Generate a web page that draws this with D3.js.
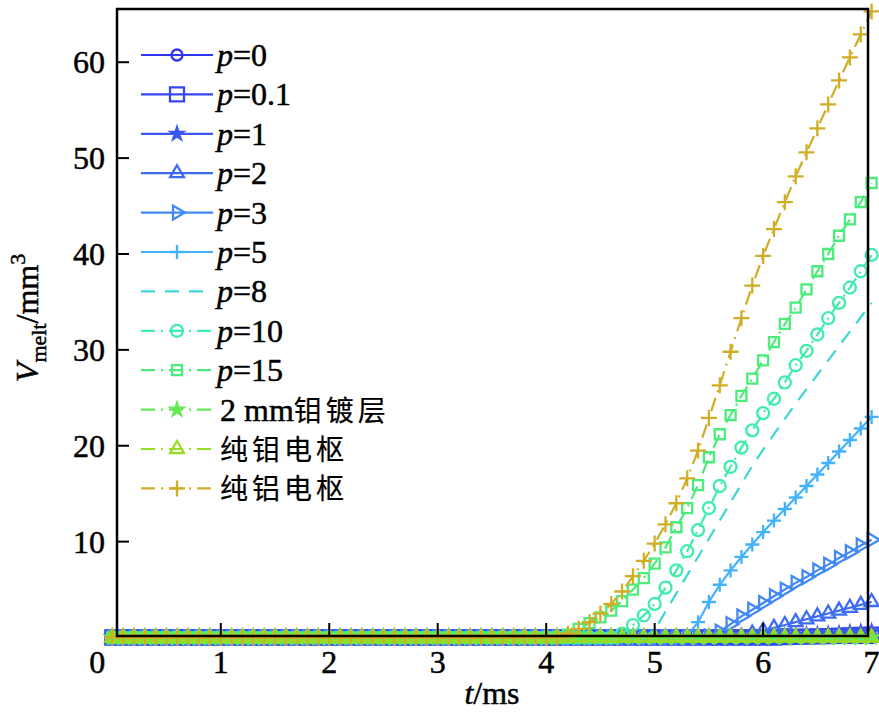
<!DOCTYPE html>
<html>
<head>
<meta charset="utf-8">
<script src="https://cdn.jsdelivr.net/npm/d3@7"></script>
<style>
  body { margin: 0; background: #fff; }
  svg { display: block; }
  text { font-family: "Liberation Serif", "DejaVu Serif", serif; fill: #000; }
  .num { stroke: #000; stroke-width: 0.5px; }
  .cjk { font-family: "Noto Sans CJK SC", sans-serif; }
</style>
</head>
<body>
<svg id="chart" width="879" height="717"></svg>
<script>
// time axis, ms (one sample every 0.1 ms)
const times = [0,0.1,0.2,0.3,0.4,0.5,0.6,0.7,0.8,0.9,1,1.1,1.2,1.3,1.4,1.5,1.6,1.7,1.8,1.9,
  2,2.1,2.2,2.3,2.4,2.5,2.6,2.7,2.8,2.9,3,3.1,3.2,3.3,3.4,3.5,3.6,3.7,3.8,3.9,
  4,4.1,4.2,4.3,4.4,4.5,4.6,4.7,4.8,4.9,5,5.1,5.2,5.3,5.4,5.5,5.6,5.7,5.8,5.9,
  6,6.1,6.2,6.3,6.4,6.5,6.6,6.7,6.8,6.9,7];

// melted volume, mm^3
const p0 = [0,0,0,0,0,0,0,0,0,0, 0,0,0,0,0,0,0,0,0,0, 0,0,0,0,0,0,0,0,0,0, 0,0,0,0,0,0,0,0,0,0,
  0,0,0,0,0,0,0,0,0,0, 0,0,0,0,0,0,0,0,0,0, 0,0,0,0,0,0,0,0,0,0, 0];
const p01 = [0,0,0,0,0,0,0,0,0,0, 0,0,0,0,0,0,0,0,0,0, 0,0,0,0,0,0,0,0,0,0, 0,0,0,0,0,0,0,0,0,0,
  0,0,0,0,0,0,0,0,0,0, 0,0,0,0,0,0,0,0,0,0, 0,0,0.03,0.06,0.09,0.12,0.15,0.18,0.22,0.26, 0.3];
const p1 = [0,0,0,0,0,0,0,0,0,0, 0,0,0,0,0,0,0,0,0,0, 0,0,0,0,0,0,0,0,0,0, 0,0,0,0,0,0,0,0,0,0,
  0,0,0,0,0,0,0,0,0,0, 0,0,0,0,0,0,0,0,0,0, 0.05,0.1,0.15,0.2,0.25,0.3,0.35,0.4,0.5,0.55, 0.6];
const p2 = [0,0,0,0,0,0,0,0,0,0, 0,0,0,0,0,0,0,0,0,0, 0,0,0,0,0,0,0,0,0,0, 0,0,0,0,0,0,0,0,0,0,
  0,0,0,0,0,0,0,0,0,0, 0,0,0,0,0,0,0,0,0.1,0.4, 0.7,1.0,1.3,1.6,1.9,2.2,2.5,2.8,3.1,3.4, 3.7];
const p3 = [0,0,0,0,0,0,0,0,0,0, 0,0,0,0,0,0,0,0,0,0, 0,0,0,0,0,0,0,0,0,0, 0,0,0,0,0,0,0,0,0,0,
  0,0,0,0,0,0,0,0,0,0, 0,0,0,0,0,0.1,0.6,1.4,2.2,2.9, 3.6,4.3,5.0,5.7,6.3,7.0,7.6,8.3,8.9,9.6, 10.2];
const p5 = [0,0,0,0,0,0,0,0,0,0, 0,0,0,0,0,0,0,0,0,0, 0,0,0,0,0,0,0,0,0,0, 0,0,0,0,0,0,0,0,0,0,
  0,0,0,0,0,0,0,0,0,0, 0,0,0,0.2,1.6,3.7,5.5,7.0,8.4,9.7, 11.0,12.2,13.4,14.6,15.8,17.0,18.2,19.4,20.6,21.8, 23.0];
const p8 = [0,0,0,0,0,0,0,0,0,0, 0,0,0,0,0,0,0,0,0,0, 0,0,0,0,0,0,0,0,0,0, 0,0,0,0,0,0,0,0,0,0,
  0,0,0,0,0,0,0,0,0,0, 0.8,2.7,4.6,6.5,8.4,10.3,12.2,14.1,16.0,17.9, 19.6,21.2,22.8,24.4,25.9,27.4,28.9,30.4,31.9,33.4, 34.9];
const p10 = [0,0,0,0,0,0,0,0,0,0, 0,0,0,0,0,0,0,0,0,0, 0,0,0,0,0,0,0,0,0,0, 0,0,0,0,0,0,0,0,0,0,
  0,0,0,0,0,0,0,0.4,1.3,2.3, 3.5,5.2,7.0,9.0,11.2,13.5,15.8,17.8,19.8,21.6, 23.4,24.9,26.6,28.4,29.9,31.6,33.3,34.9,36.5,38.2, 39.9];
const p15 = [0,0,0,0,0,0,0,0,0,0, 0,0,0,0,0,0,0,0,0,0, 0,0,0,0,0,0,0,0,0,0, 0,0,0,0,0,0,0,0,0,0,
  0,0,0.3,0.9,1.5,2.1,2.8,3.8,5.0,6.2, 7.7,9.4,11.5,13.5,15.9,18.8,21.2,23.2,25.2,27.0, 28.9,30.8,32.7,34.4,36.3,38.2,40.0,41.9,43.6,45.4, 47.4];
const coat2mm = [0,0,0,0,0,0,0,0,0,0, 0,0,0,0,0,0,0,0,0,0, 0,0,0,0,0,0,0,0,0,0, 0,0,0,0,0,0,0,0,0,0,
  0,0,0,0,0,0,0,0,0,0, 0,0,0,0,0,0,0,0,0,0, 0,0,0,0,0,0,0,0,0,0, 0];
const pureMo = [0,0,0,0,0,0,0,0,0,0, 0,0,0,0,0,0,0,0,0,0, 0,0,0,0,0,0,0,0,0,0, 0,0,0,0,0,0,0,0,0,0,
  0,0,0,0,0,0,0,0,0,0, 0,0,0,0,0,0,0,0,0,0, 0,0,0,0,0,0,0,0,0,0, 0];
const pureAl = [0,0,0,0,0,0,0,0,0,0, 0,0,0,0,0,0,0,0,0,0, 0,0,0,0,0,0,0,0,0,0, 0,0,0,0,0,0,0,0,0,0,
  0,0,0.4,0.9,1.6,2.5,3.5,4.8,6.4,8.0, 9.8,11.8,14.0,16.6,19.5,22.9,26.3,29.8,33.3,36.7, 39.8,42.6,45.4,48.1,50.6,53.1,55.6,58.1,60.5,62.9, 65.3];

const xTicks = [0,1,2,3,4,5,6,7];
const yTicks = [10,20,30,40,50,60];

const series = [
  { p: "p", label: "=0",   values: p0,  color: "#2f36f2", dash: null,       marker: "circle",   size: 5.5 },
  { p: "p", label: "=0.1", values: p01, color: "#3647f2", dash: null,       marker: "square",   size: 14 },
  { p: "p", label: "=1",   values: p1,  color: "#3a58f0", dash: null,       marker: "star",     size: 48 },
  { p: "p", label: "=2",   values: p2,  color: "#3d6cf2", dash: null,       marker: "triUp",    size: 8 },
  { p: "p", label: "=3",   values: p3,  color: "#4289f6", dash: null,       marker: "triRight", size: 8 },
  { p: "p", label: "=5",   values: p5,  color: "#43b2fb", dash: null,       marker: "plus",     size: 7 },
  { p: "p", label: "=8",   values: p8,  color: "#3fd6d2", dash: "14,10",    marker: null,       size: 0 },
  { p: "p", label: "=10",  values: p10, color: "#3fecab", dash: "14,6,2,6", marker: "circle",   size: 6 },
  { p: "p", label: "=15",  values: p15, color: "#4cec7c", dash: "14,6,2,6", marker: "square",   size: 10 },
  { cjk: "钼镀层", pre: "2 mm", values: coat2mm, color: "#63ea55", dash: "14,6,2,6", marker: "star", size: 48 },
  { cjk: "纯钼电枢", values: pureMo, color: "#96dc22", dash: "14,6,2,6", marker: "triUp", size: 8 },
  { cjk: "纯铝电枢", values: pureAl, color: "#cfae26", dash: "14,6,2,6", marker: "plus",  size: 8 }
];

const svg = d3.select("#chart");
const frame = { left: 117, right: 868, top: 9, bottom: 636 };

const x = d3.scaleLinear().domain([0, 7]).range([112.3, 871.6]);
const y = d3.scaleLinear().domain([0, 65.55]).range([637.5, 9]);

function markerPath(type, s) {
  if (type === "circle") return d3.symbol(d3.symbolCircle, Math.PI * s * s)();
  if (type === "square") { const h = s / 2; return `M${-h},${-h}h${s}v${s}h${-s}Z`; }
  if (type === "star") return d3.symbol(d3.symbolStar, s)();
  if (type === "triUp") return `M0,${-s}L${s * 0.866},${s / 2}L${-s * 0.866},${s / 2}Z`;
  if (type === "triRight") return `M${s},0L${-s / 2},${s * 0.866}L${-s / 2},${-s * 0.866}Z`;
  if (type === "plus") return `M${-s},0H${s}M0,${-s}V${s}`;
  return "";
}

function drawMarker(g, d, cx, cy) {
  if (!d.marker) return;
  g.append("path")
    .attr("d", markerPath(d.marker, d.size))
    .attr("transform", `translate(${cx},${cy})`)
    .attr("fill", d.marker === "star" ? d.color : "none")
    .attr("stroke", d.color)
    .attr("stroke-width", 2.3);
}

const line = d3.line().x((d, i) => x(times[i])).y(d => y(d));

const plot = svg.append("g");
series.forEach(s => {
  const g = plot.append("g");
  g.append("path")
    .datum(s.values)
    .attr("d", line)
    .attr("fill", "none")
    .attr("stroke", s.color)
    .attr("stroke-width", 2.2)
    .attr("stroke-dasharray", s.dash);
  s.values.forEach((v, i) => drawMarker(g, s, x(times[i]), y(v)));
});

// frame and ticks
svg.append("rect")
  .attr("x", frame.left).attr("y", frame.top)
  .attr("width", frame.right - frame.left).attr("height", frame.bottom - frame.top)
  .attr("fill", "none").attr("stroke", "#000").attr("stroke-width", 2.5);

svg.append("g").selectAll("line")
  .data(xTicks.filter(t => t > 0 && t < 7))
  .join("line")
  .attr("x1", d => x(d)).attr("x2", d => x(d))
  .attr("y1", frame.bottom).attr("y2", frame.bottom - 13)
  .attr("stroke", "#000").attr("stroke-width", 2);

svg.append("g").selectAll("line")
  .data(yTicks)
  .join("line")
  .attr("x1", frame.left).attr("x2", frame.left + 12)
  .attr("y1", d => y(d)).attr("y2", d => y(d))
  .attr("stroke", "#000").attr("stroke-width", 2);

svg.append("g").selectAll("text")
  .data(xTicks)
  .join("text")
  .attr("class", "num")
  .attr("x", d => d === 0 ? x(d) - 15 : x(d))
  .attr("y", 673)
  .attr("text-anchor", "middle")
  .style("font-size", "32px")
  .text(d => d);

svg.append("g").selectAll("text")
  .data(yTicks)
  .join("text")
  .attr("class", "num")
  .attr("x", 105)
  .attr("y", d => y(d) + 11)
  .attr("text-anchor", "end")
  .style("font-size", "32px")
  .text(d => d);

// axis titles
const xt = svg.append("text")
  .attr("class", "num")
  .attr("x", 492).attr("y", 704)
  .attr("text-anchor", "middle")
  .style("font-size", "32px");
xt.append("tspan").style("font-style", "italic").text("t");
xt.append("tspan").text("/ms");

const yt = svg.append("text")
  .attr("class", "num")
  .attr("transform", "translate(38,318) rotate(-90)")
  .attr("text-anchor", "middle")
  .style("font-size", "32px");
yt.append("tspan").style("font-style", "italic").text("V");
yt.append("tspan").attr("dy", 8).style("font-size", "22px").text("melt");
yt.append("tspan").attr("dy", -8).text("/mm");
yt.append("tspan").attr("dy", -13).style("font-size", "22px").text("3");

// legend
const legend = svg.append("g").selectAll("g")
  .data(series)
  .join("g")
  .attr("transform", (d, i) => `translate(0,${55 + i * 39.4})`);

legend.each(function (d) {
  const g = d3.select(this);
  g.append("line")
    .attr("x1", 141).attr("x2", 213).attr("y1", 0).attr("y2", 0)
    .attr("stroke", d.color).attr("stroke-width", 2.2)
    .attr("stroke-dasharray", d.dash);
  drawMarker(g, d, 177, 0);
  const t = g.append("text").attr("class", "num").attr("x", 217).attr("y", 11).style("font-size", "32px");
  if (d.p) {
    t.append("tspan").style("font-style", "italic").text(d.p);
    t.append("tspan").text(d.label);
  } else {
    t.attr("x", 220);
    if (d.pre) t.append("tspan").text(d.pre);
    t.append("tspan").attr("class", "cjk")
      .style("font-size", "28px").style("letter-spacing", "4px").style("stroke-width", "0.2px")
      .text(d.cjk);
  }
});
</script>
</body>
</html>
